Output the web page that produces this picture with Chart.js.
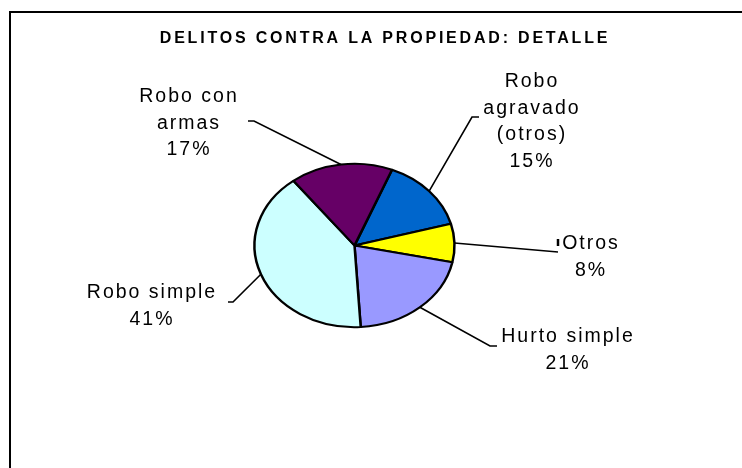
<!DOCTYPE html>
<html>
<head>
<meta charset="utf-8">
<script src="https://cdn.jsdelivr.net/npm/chart.js@4.4.1/dist/chart.umd.min.js"></script>
<style>
  html, body { margin: 0; padding: 0; background: #fff; }
  canvas { display: block; }
</style>
</head>
<body>
<canvas id="pie" width="742" height="468"></canvas>
<script>
const chartTitle = 'DELITOS CONTRA LA PROPIEDAD: DETALLE'
const categories = ['Robo agravado (otros)', 'Otros', 'Hurto simple', 'Robo simple', 'Robo con armas']
const shares = [14.6, 7.6, 20.7, 40.55, 16.55]
const labelLines = [['Robo', 'agravado', '(otros)'], ['Otros'], ['Hurto simple'], ['Robo simple'], ['Robo con', 'armas']]
const sliceColors = ['#0066CC', '#FFFF00', '#9999FF', '#CCFFFF', '#660066']

// label placement: centre x, first baseline y, and the bend points of each leader line
const labelLayout = [
  { x: 532, y: 87, elbow: [[472, 117], [479, 117]] },
  { x: 591, y: 249, elbow: [[558, 252]], tick: [[558, 239], [558, 246]] },
  { x: 568, y: 342, elbow: [[490, 346], [497, 346]] },
  { x: 152, y: 298, elbow: [[233, 302], [228, 302]] },
  { x: 189, y: 102, elbow: [[254, 121], [248, 121]] }
]
const lineGap = 26.5
const squash = 82.5 / 101   // excel draws the pie as a flattened oval

const ovalPie = {
  id: 'ovalPie',
  beforeDraw(chart) {
    const ctx = chart.ctx
    ctx.save()
    ctx.fillStyle = '#fff'
    ctx.fillRect(0, 0, chart.width, chart.height)
    ctx.strokeStyle = '#000'
    ctx.lineWidth = 2
    ctx.strokeRect(10, 12, 760, 480)
    ctx.restore()
  },
  beforeDatasetsDraw(chart) {
    const arc = chart.getDatasetMeta(0).data[0]
    const ctx = chart.ctx
    ctx.save()
    ctx.translate(0, arc.y)
    ctx.scale(1, squash)
    ctx.translate(0, -arc.y)
  },
  afterDatasetsDraw(chart) {
    chart.ctx.restore()
  },
  afterDraw(chart) {
    const ctx = chart.ctx
    const meta = chart.getDatasetMeta(0)
    const total = shares.reduce((a, b) => a + b, 0)

    ctx.save()
    ctx.fillStyle = '#000'
    ctx.font = 'bold 16px "Liberation Sans", Arial, sans-serif'
    ctx.letterSpacing = '2.8px'
    ctx.textAlign = 'center'
    ctx.textBaseline = 'alphabetic'
    ctx.fillText(chartTitle, 385, 43)

    ctx.strokeStyle = '#000'
    ctx.lineWidth = 1.6
    ctx.font = '19.5px "Liberation Sans", Arial, sans-serif'
    ctx.letterSpacing = '2px'

    meta.data.forEach((arc, i) => {
      const lay = labelLayout[i]
      const mid = (arc.startAngle + arc.endAngle) / 2
      const px = arc.x + Math.cos(mid) * arc.outerRadius
      const py = arc.y + Math.sin(mid) * arc.outerRadius * squash

      ctx.beginPath()
      ctx.moveTo(px, py)
      lay.elbow.forEach(p => ctx.lineTo(p[0], p[1]))
      ctx.stroke()
      if (lay.tick) {
        ctx.save()
        ctx.lineWidth = 2.5
        ctx.beginPath()
        ctx.moveTo(lay.tick[0][0], lay.tick[0][1])
        ctx.lineTo(lay.tick[1][0], lay.tick[1][1])
        ctx.stroke()
        ctx.restore()
      }

      const lines = labelLines[i].concat([Math.round(shares[i] / total * 100) + '%'])
      lines.forEach((t, k) => ctx.fillText(t, lay.x, lay.y + k * lineGap))
    })
    ctx.restore()
  }
}

new Chart(document.getElementById('pie'), {
  type: 'pie',
  data: {
    labels: categories,
    datasets: [{
      data: shares,
      backgroundColor: sliceColors,
      borderColor: '#000',
      borderWidth: 2.5,
      radius: 100
    }]
  },
  options: {
    responsive: false,
    animation: false,
    rotation: 22,
    layout: { padding: { left: 0, right: 33, top: 60, bottom: 37 } },
    plugins: {
      legend: { display: false },
      tooltip: { enabled: false },
      title: { display: false }
    }
  },
  plugins: [ovalPie]
})
</script>
</body>
</html>
